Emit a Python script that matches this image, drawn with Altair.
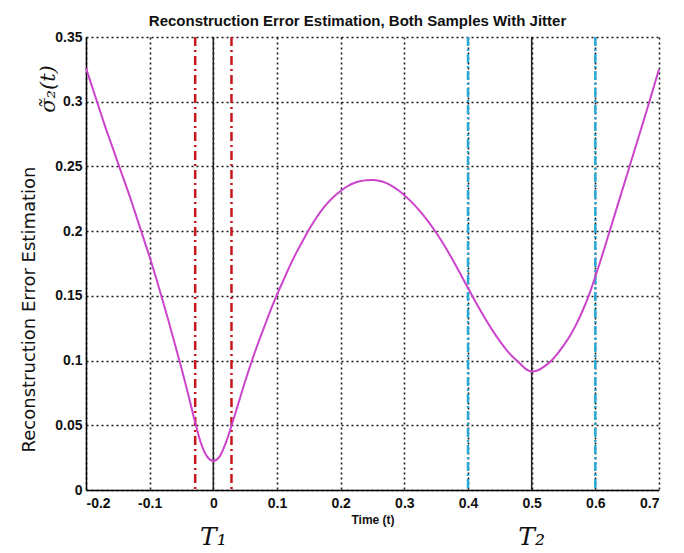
import altair as alt
import pandas as pd

# ---- data ----
t_vals = [-0.20, -0.19, -0.18, -0.17, -0.16, -0.15, -0.14, -0.13, -0.12, -0.11,
          -0.10, -0.09, -0.08, -0.07, -0.06, -0.05, -0.04, -0.03, -0.02, -0.01,
          0.00, 0.01, 0.02, 0.03, 0.04, 0.05, 0.06, 0.07, 0.08, 0.09,
          0.10, 0.11, 0.12, 0.13, 0.14, 0.15, 0.16, 0.17, 0.18, 0.19,
          0.20, 0.21, 0.22, 0.23, 0.24, 0.25, 0.26, 0.27, 0.28, 0.29,
          0.30, 0.31, 0.32, 0.33, 0.34, 0.35, 0.36, 0.37, 0.38, 0.39,
          0.40, 0.41, 0.42, 0.43, 0.44, 0.45, 0.46, 0.47, 0.48, 0.49,
          0.50, 0.51, 0.52, 0.53, 0.54, 0.55, 0.56, 0.57, 0.58, 0.59,
          0.60, 0.61, 0.62, 0.63, 0.64, 0.65, 0.66, 0.67, 0.68, 0.69, 0.70]
err_vals = [0.326, 0.311, 0.296, 0.281, 0.267, 0.253, 0.239, 0.225, 0.210, 0.195,
            0.180, 0.164, 0.147, 0.130, 0.112, 0.094, 0.075, 0.055, 0.037, 0.026,
            0.0225, 0.026, 0.037, 0.052, 0.068, 0.084, 0.099, 0.113, 0.126, 0.139,
            0.151, 0.162, 0.173, 0.183, 0.192, 0.201, 0.209, 0.216, 0.222, 0.227,
            0.231, 0.2345, 0.237, 0.2385, 0.2393, 0.2395, 0.239, 0.2375, 0.235, 0.2318,
            0.2278, 0.2232, 0.218, 0.2122, 0.2058, 0.1988, 0.1912, 0.1830, 0.1743, 0.1652,
            0.1560, 0.1470, 0.1383, 0.1300, 0.1222, 0.1150, 0.1085, 0.1030, 0.0985, 0.0938,
            0.0915, 0.0925, 0.0955, 0.0995, 0.1050, 0.1115, 0.1190, 0.1280, 0.1385, 0.1505,
            0.1650, 0.1800, 0.1960, 0.2120, 0.2280, 0.2440, 0.2600, 0.2760, 0.2920, 0.3085,
            0.3250]

sample_times = [0.0, 0.5]          # black solid lines
jitter_t1 = [-0.0285, 0.0285]      # red dash-dot lines
jitter_t2 = [0.4, 0.6]             # cyan dash-dot lines
sample_labels = ["T\u2081", "T\u2082"]

x_ticks = [-0.2, -0.1, 0.0, 0.1, 0.2, 0.3, 0.4, 0.5, 0.6, 0.7]
y_ticks = [0.0, 0.05, 0.1, 0.15, 0.2, 0.25, 0.3, 0.35]

title_text = "Reconstruction Error Estimation, Both Samples With Jitter"
x_title = "Time (t)"
y_title = "Reconstruction Error Estimation"
sigma_label = "\u03c3\u0303\u2082(t)"

# ---- tables ----
curve = pd.DataFrame({"t": t_vals, "v": err_vals})
df_black = pd.DataFrame({"t": sample_times})
df_red = pd.DataFrame({"t": jitter_t1})
df_cyan = pd.DataFrame({"t": jitter_t2})
df_T = pd.DataFrame({"t": sample_times, "lab": sample_labels})

label_expr = "datum.value < 0 ? '-' + format(-datum.value, '.2~f') : format(datum.value, '.2~f')"

xaxis = alt.Axis(values=x_ticks, labelExpr=label_expr, title=x_title,
                 grid=True, ticks=False, labelPadding=6,
                 titleFont="Liberation Sans", titleFontSize=12, titleFontWeight="bold",
                 titlePadding=4)
yaxis = alt.Axis(values=y_ticks, labelExpr=label_expr, title=y_title,
                 grid=True, ticks=False, labelPadding=4,
                 titleFont="DejaVu Sans", titleFontSize=18, titleFontWeight="normal",
                 titleAngle=270, titleX=-57, titleY=272, titleAlign="center",
                 titleBaseline="middle")

X = alt.X("t:Q", scale=alt.Scale(domain=[-0.2, 0.7], nice=False, zero=False), axis=xaxis)
Y = alt.Y("v:Q", scale=alt.Scale(domain=[0, 0.35], nice=False), axis=yaxis)

line = alt.Chart(curve).mark_line(color="#cc44cc", strokeWidth=2,
                                  interpolate="monotone").encode(x=X, y=Y)

black = alt.Chart(df_black).mark_rule(color="#222222", strokeWidth=1.5).encode(x=X)
red = alt.Chart(df_red).mark_rule(color="#c8161d", strokeWidth=2.5,
                                  strokeDash=[9, 4, 2, 4]).encode(x=X)
cyan = alt.Chart(df_cyan).mark_rule(color="#2aa8d8", strokeWidth=2.5,
                                    strokeDash=[9, 3, 2, 3]).encode(x=X)

tlabels = alt.Chart(df_T).mark_text(font="DejaVu Serif", fontStyle="italic",
                                    fontSize=25, baseline="middle", align="center",
                                    color="#111111").encode(
    x=X, y=alt.value(500), text="lab:N")

sigma = alt.Chart(pd.DataFrame({"s": [sigma_label]})).mark_text(
    font="DejaVu Serif", fontStyle="italic", fontSize=21, angle=270,
    align="center", baseline="middle", color="#111111").encode(
    x=alt.value(-37), y=alt.value(52), text="s:N")

chart = alt.layer(black, red, cyan, line, tlabels, sigma).properties(
    width=573, height=453,
    autosize=alt.AutoSizeParams(type="none"),
    padding={"left": 78, "top": 29, "right": 10, "bottom": 62},
    title=alt.TitleParams(title_text, font="Liberation Sans", fontSize=15,
                          fontWeight="bold", anchor="middle", dx=-15, offset=1,
                          color="#111111"),
).configure_view(stroke=None).configure_axis(
    domainColor="#000000", domainWidth=1.5,
    gridColor="#000000", gridDash=[2, 3], gridWidth=1.6, gridOpacity=0.9,
    labelFont="Liberation Sans", labelFontSize=14, labelFontWeight="bold",
    labelColor="#111111", titleColor="#111111",
)

chart.save("out.html", embed_options={"renderer": "svg", "actions": False})
